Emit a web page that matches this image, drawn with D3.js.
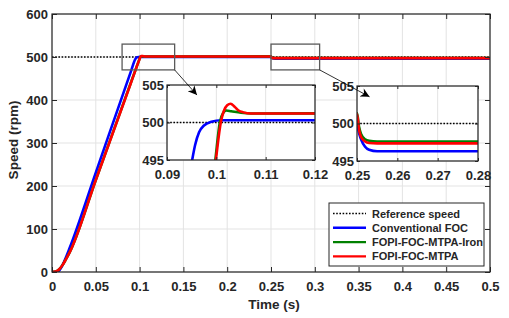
<!DOCTYPE html>
<html>
<head>
<meta charset="utf-8">
<script src="https://cdn.jsdelivr.net/npm/d3@7"></script>
<style>
  body { margin: 0; background: #fff; }
  svg text { font-family: "Liberation Sans", Arial, sans-serif; font-weight: bold; fill: #262626; }
</style>
</head>
<body>
<svg id="chart" width="509" height="318"></svg>
<script>
// time (s) and speed (rpm)
var blueT = [0, 0.005, 0.008, 0.011, 0.014, 0.02, 0.05, 0.09, 0.0951, 0.0957, 0.0965, 0.0975, 0.099, 0.101, 0.25, 0.2503, 0.251, 0.252, 0.253, 0.255, 0.28, 0.5];
var blueV = [0, 0, 3, 12, 25, 55, 231, 466, 495, 497, 498.7, 499.6, 500.1, 500.3, 500.3, 499.2, 497.9, 496.9, 496.5, 496.3, 496.3, 496.3];

var greenT = [0, 0.004, 0.008, 0.012, 0.016, 0.02, 0.05, 0.09, 0.0998, 0.1007, 0.1014, 0.102, 0.103, 0.105, 0.107, 0.25, 0.2505, 0.251, 0.252, 0.253, 0.255, 0.28, 0.5];
var greenV = [0, 1, 6, 16, 30, 45, 214, 440, 495, 500, 501.3, 501.6, 501.5, 501.3, 501.2, 501.4, 499.6, 498.6, 497.9, 497.7, 497.6, 497.6, 497.6];

var redT = [0, 0.004, 0.008, 0.012, 0.016, 0.02, 0.05, 0.09, 0.0999, 0.1009, 0.1015, 0.1022, 0.1029, 0.1037, 0.1045, 0.1055, 0.107, 0.25, 0.2505, 0.251, 0.252, 0.253, 0.255, 0.28, 0.5];
var redV = [0, 1, 6, 16, 30, 45, 214, 439, 495, 500, 501.5, 502.3, 502.5, 502.1, 501.6, 501.35, 501.2, 501.3, 499.2, 498.2, 497.6, 497.4, 497.35, 497.35, 497.35];

var refSpeed = 500;
var xTicksMain = [0, 0.05, 0.1, 0.15, 0.2, 0.25, 0.3, 0.35, 0.4, 0.45, 0.5];
var yTicksMain = [0, 100, 200, 300, 400, 500, 600];
var zoom1X = [0.09, 0.12], zoom1Y = [495, 505];
var zoom2X = [0.25, 0.28], zoom2Y = [495, 505];
var xTicksZoom1 = [0.09, 0.1, 0.11, 0.12];
var xTicksZoom2 = [0.25, 0.26, 0.27, 0.28];
var yTicksZoom = [495, 500, 505];
var legendNames = ["Reference speed", "Conventional FOC", "FOPI-FOC-MTPA-Iron", "FOPI-FOC-MTPA"];
var legendColors = ["#000", "#0000ff", "#008000", "#ff0000"];

var series = [
  {t: blueT, v: blueV, color: "#0000ff"},
  {t: greenT, v: greenV, color: "#008000"},
  {t: redT, v: redV, color: "#ff0000"}
];

var svg = d3.select("#chart");
var fmt = function(d) { return String(d); };

var defs = svg.append("defs");
defs.append("marker")
  .attr("id", "arrow")
  .attr("viewBox", "0 0 10 10")
  .attr("refX", 10).attr("refY", 5)
  .attr("markerWidth", 11).attr("markerHeight", 9)
  .attr("markerUnits", "userSpaceOnUse")
  .attr("orient", "auto")
  .append("path").attr("d", "M0,0 L10,5 L0,10 L3,5 Z").attr("fill", "#000");

// draws one axes box: grid, curves, ref line, ticks
function drawAxes(opt) {
  var x = d3.scaleLinear().domain(opt.xd).range([opt.left, opt.right]);
  var y = d3.scaleLinear().domain(opt.yd).range([opt.bottom, opt.top]);
  var g = svg.append("g");
  var w = opt.right - opt.left, h = opt.bottom - opt.top;

  g.append("rect").attr("x", opt.left).attr("y", opt.top).attr("width", w).attr("height", h).attr("fill", "#fff");

  var clipId = "clip" + opt.id;
  defs.append("clipPath").attr("id", clipId)
    .append("rect").attr("x", opt.left).attr("y", opt.top).attr("width", w).attr("height", h);

  g.append("g").selectAll("line.gx").data(opt.xt).enter().append("line")
    .attr("x1", d => x(d)).attr("x2", d => x(d)).attr("y1", opt.top).attr("y2", opt.bottom)
    .attr("stroke", "#e3e3e3").attr("stroke-width", 1);
  g.append("g").selectAll("line.gy").data(opt.yt).enter().append("line")
    .attr("y1", d => y(d)).attr("y2", d => y(d)).attr("x1", opt.left).attr("x2", opt.right)
    .attr("stroke", "#e3e3e3").attr("stroke-width", 1);

  var plot = g.append("g").attr("clip-path", "url(#" + clipId + ")");
  plot.append("line")
    .attr("x1", x(opt.xd[0])).attr("x2", x(opt.xd[1]))
    .attr("y1", y(refSpeed)).attr("y2", y(refSpeed))
    .attr("stroke", "#000").attr("stroke-width", 1.6).attr("stroke-dasharray", "1.6,1.6");

  var line = d3.line().x(d => x(d[0])).y(d => y(d[1])).curve(d3.curveMonotoneX);
  series.forEach(function(s) {
    plot.append("path")
      .datum(d3.zip(s.t, s.v))
      .attr("d", line)
      .attr("fill", "none")
      .attr("stroke", s.color)
      .attr("stroke-width", 2.6)
      .attr("stroke-linejoin", "round");
  });

  // ticks (inward, all four sides)
  var tl = opt.tick;
  g.append("g").call(d3.axisBottom(x).tickValues(opt.xt).tickSize(-tl).tickPadding(opt.padX).tickFormat(fmt))
    .attr("transform", "translate(0," + opt.bottom + ")").call(styleAxis, opt.fs);
  g.append("g").call(d3.axisTop(x).tickValues(opt.xt).tickSize(-tl).tickFormat(""))
    .attr("transform", "translate(0," + opt.top + ")").call(styleAxis, opt.fs);
  g.append("g").call(d3.axisLeft(y).tickValues(opt.yt).tickSize(-tl).tickPadding(opt.padY).tickFormat(fmt))
    .attr("transform", "translate(" + opt.left + ",0)").call(styleAxis, opt.fs);
  g.append("g").call(d3.axisRight(y).tickValues(opt.yt).tickSize(-tl).tickFormat(""))
    .attr("transform", "translate(" + opt.right + ",0)").call(styleAxis, opt.fs);

  g.append("rect").attr("x", opt.left).attr("y", opt.top).attr("width", w).attr("height", h)
    .attr("fill", "none").attr("stroke", "#262626").attr("stroke-width", 1.2);
  return {x: x, y: y};
}

function styleAxis(sel, fs) {
  sel.select(".domain").remove();
  sel.selectAll(".tick line").attr("stroke", "#262626");
  sel.selectAll(".tick text").attr("font-size", fs + "px").attr("fill", "#262626")
    .style("font-family", "'Liberation Sans', Arial, sans-serif").style("font-weight", "bold");
}

var main = drawAxes({id: "m", xd: [0, 0.5], yd: [0, 600], left: 52, right: 490, top: 14, bottom: 272,
  xt: xTicksMain, yt: yTicksMain, tick: 5, fs: 13, padX: 10, padY: 4});

svg.append("text").attr("transform", "translate(18,140) rotate(-90)")
  .attr("text-anchor", "middle").attr("font-size", "13.5px").text("Speed (rpm)");
svg.append("text").attr("x", 274).attr("y", 309)
  .attr("text-anchor", "middle").attr("font-size", "13.5px").text("Time (s)");

// zoom boxes in main axes
var boxes = [
  {x0: 0.08, x1: 0.14, y0: 470, y1: 530, tipT: 0.1655, tipV: 411.5},
  {x0: 0.25, x1: 0.3055, y0: 470, y1: 530, tipT: 0.3625, tipV: 407.5}
];
boxes.forEach(function(b) {
  svg.append("rect")
    .attr("x", main.x(b.x0)).attr("y", main.y(b.y1))
    .attr("width", main.x(b.x1) - main.x(b.x0)).attr("height", main.y(b.y0) - main.y(b.y1))
    .attr("fill", "none").attr("stroke", "#5a5a5a").attr("stroke-width", 1.3);
});

var z1 = drawAxes({id: "z1", xd: zoom1X, yd: zoom1Y, left: 167, right: 315, top: 85, bottom: 160,
  xt: xTicksZoom1, yt: yTicksZoom, tick: 3, fs: 13, padX: 10, padY: 3});
var z2 = drawAxes({id: "z2", xd: zoom2X, yd: zoom2Y, left: 357, right: 478, top: 86, bottom: 161,
  xt: xTicksZoom2, yt: yTicksZoom, tick: 3, fs: 13, padX: 10, padY: 3});

boxes.forEach(function(b) {
  svg.append("line")
    .attr("x1", main.x(b.x1)).attr("y1", main.y(b.y0))
    .attr("x2", main.x(b.tipT)).attr("y2", main.y(b.tipV))
    .attr("stroke", "#000").attr("stroke-width", 0.8)
    .attr("marker-end", "url(#arrow)");
});

// legend
var lg = svg.append("g");
lg.append("rect").attr("x", 329).attr("y", 203).attr("width", 155).attr("height", 63)
  .attr("fill", "#fff").attr("stroke", "#262626").attr("stroke-width", 1);
legendNames.forEach(function(name, i) {
  var yy = 213.5 + i * 14.3;
  lg.append("line").attr("x1", 333).attr("x2", 366).attr("y1", yy).attr("y2", yy)
    .attr("stroke", legendColors[i])
    .attr("stroke-width", i === 0 ? 1.6 : 2.4)
    .attr("stroke-dasharray", i === 0 ? "1.6,1.6" : null);
  lg.append("text").attr("x", 372).attr("y", yy + 4).attr("font-size", "11px").text(name);
});
</script>
</body>
</html>
